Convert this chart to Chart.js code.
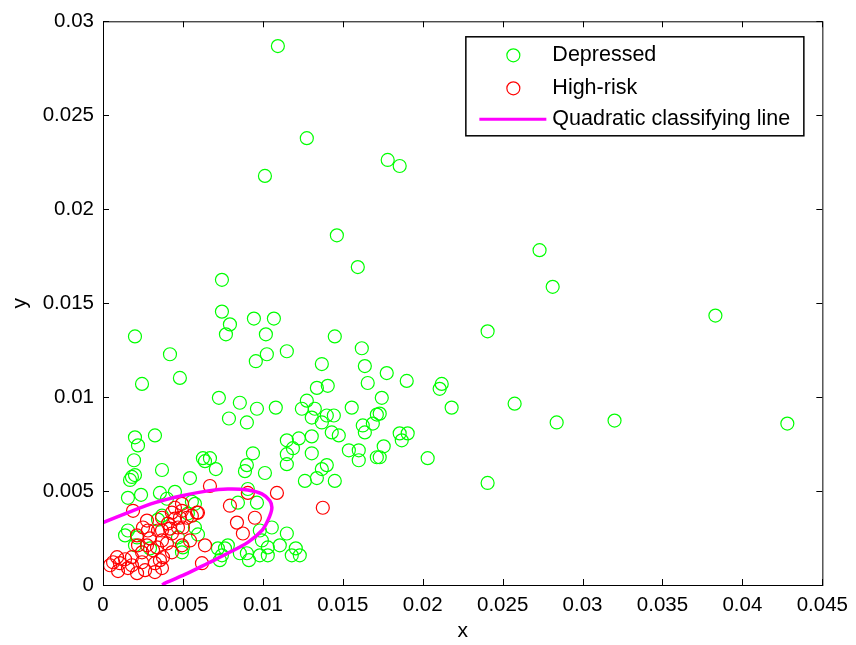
<!DOCTYPE html>
<html>
<head>
<meta charset="utf-8">
<script src="https://cdn.jsdelivr.net/npm/chart.js@4.4.0/dist/chart.umd.min.js"></script>
<style>
  html, body { margin: 0; padding: 0; background: #fff; }
  .wrap { width: 856px; height: 645px; position: relative; }
</style>
</head>
<body>
<div class="wrap"><canvas id="myChart"></canvas></div>
<script>
// Depressed group (green)
const greenX = [0.01094, 0.01275, 0.01013, 0.01781, 0.01856, 0.01463, 0.01594, 0.00744, 0.02731, 0.02813,
  0.03831, 0.02406, 0.04281, 0.032, 0.02838, 0.02575, 0.02181, 0.02119, 0.02106, 0.019,
  0.01775, 0.02031, 0.02406, 0.01744, 0.01731, 0.01856, 0.01906, 0.01869, 0.01756, 0.01731,
  0.002, 0.00419, 0.00481, 0.00244, 0.00744, 0.00794, 0.00769, 0.00944, 0.01069, 0.01019,
  0.0145, 0.01619, 0.0115, 0.01025, 0.00956, 0.01369, 0.01638, 0.01656, 0.01338, 0.01406,
  0.00725, 0.00856, 0.00963, 0.01081, 0.00788, 0.009, 0.01275, 0.01244, 0.01325, 0.01306,
  0.01369, 0.014, 0.01444, 0.01431, 0.01475, 0.01556, 0.01625, 0.01688, 0.01638, 0.01713,
  0.0115, 0.01225, 0.01306, 0.01188, 0.0115, 0.0115, 0.01306, 0.01538, 0.016, 0.016,
  0.01713, 0.00938, 0.009, 0.00888, 0.01013, 0.00625, 0.00669, 0.00638, 0.00706, 0.00544,
  0.01369, 0.014, 0.01338, 0.01263, 0.0145, 0.002, 0.00219, 0.00325, 0.00194, 0.00369,
  0.00181, 0.00169, 0.002, 0.00156, 0.00238, 0.00356, 0.004, 0.0045, 0.00556, 0.00575,
  0.00906, 0.00963, 0.00844, 0.00344, 0.00369, 0.00575, 0.00594, 0.00138, 0.00213, 0.005,
  0.00719, 0.00763, 0.00744, 0.00731, 0.00781, 0.009, 0.00981, 0.01031, 0.01031, 0.01056,
  0.0115, 0.01181, 0.00913, 0.01106, 0.01231, 0.00994, 0.00856, 0.00156, 0.002, 0.00469,
  0.00494, 0.00294, 0.00531, 0.00981, 0.01206];
const greenY = [0.02868, 0.02378, 0.02177, 0.02262, 0.0223, 0.01861, 0.01692, 0.01624, 0.01782, 0.01587,
  0.01434, 0.0135, 0.00859, 0.00875, 0.00865, 0.00965, 0.00944, 0.0107, 0.01044, 0.01086,
  0.01128, 0.00675, 0.00543, 0.00996, 0.00912, 0.00807, 0.00807, 0.0077, 0.00738, 0.0068,
  0.01323, 0.01228, 0.01102, 0.0107, 0.01455, 0.01387, 0.01334, 0.01418, 0.01418, 0.01334,
  0.01323, 0.0126, 0.01244, 0.01228, 0.01191, 0.01176, 0.01165, 0.01075, 0.01049, 0.0106,
  0.00996, 0.0097, 0.00938, 0.00944, 0.00886, 0.00865, 0.00981, 0.00938, 0.00938, 0.00891,
  0.00865, 0.00902, 0.00902, 0.00812, 0.00796, 0.00944, 0.00849, 0.00859, 0.00812, 0.00907,
  0.0077, 0.0078, 0.00791, 0.00728, 0.00696, 0.00643, 0.00701, 0.00717, 0.00717, 0.00664,
  0.0068, 0.00701, 0.00638, 0.00606, 0.00596, 0.00675, 0.00675, 0.00659, 0.00617, 0.00569,
  0.00617, 0.00638, 0.00569, 0.00554, 0.00554, 0.00786, 0.00743, 0.00796, 0.00664, 0.00612,
  0.00575, 0.00559, 0.00585, 0.00464, 0.0048, 0.0049, 0.00459, 0.00496, 0.00443, 0.00432,
  0.00511, 0.00438, 0.00438, 0.00348, 0.00369, 0.00306, 0.00269, 0.00264, 0.00253, 0.002,
  0.00195, 0.00195, 0.00158, 0.00132, 0.00211, 0.00169, 0.00158, 0.00158, 0.002, 0.00306,
  0.00274, 0.00158, 0.00132, 0.00211, 0.00158, 0.00237, 0.00169, 0.0029, 0.00211, 0.00253,
  0.00174, 0.00195, 0.0038, 0.0029, 0.00195];

// High-risk group (red)
const redX = [0.00088, 0.00106, 0.00138, 0.00094, 0.00156, 0.00181, 0.00244, 0.00275, 0.00294, 0.00313,
  0.00325, 0.00356, 0.00369, 0.00325, 0.00263, 0.00213, 0.00244, 0.00213, 0.0025, 0.00281,
  0.00369, 0.004, 0.00431, 0.00369, 0.00406, 0.0045, 0.00469, 0.00431, 0.00494, 0.00525,
  0.00556, 0.00494, 0.00188, 0.00275, 0.00369, 0.00338, 0.00494, 0.00431, 0.00219, 0.00181,
  0.00375, 0.00669, 0.00906, 0.01088, 0.00794, 0.00594, 0.0095, 0.00838, 0.00875, 0.00638,
  0.00619, 0.01375, 0.0045, 0.00481, 0.00588, 0.005, 0.00419, 0.00344, 0.00063, 0.00044,
  0.00544];
const redY = [0.00148, 0.00116, 0.00137, 0.00074, 0.0009, 0.00148, 0.00174, 0.00211, 0.00248, 0.00185,
  0.00116, 0.00132, 0.0009, 0.00069, 0.00079, 0.00063, 0.00121, 0.00264, 0.00306, 0.0029,
  0.00237, 0.00221, 0.00274, 0.0029, 0.00327, 0.00353, 0.00306, 0.00385, 0.00395, 0.00358,
  0.00369, 0.00432, 0.00395, 0.00343, 0.00358, 0.002, 0.00211, 0.00174, 0.00211, 0.00105,
  0.00148, 0.00527, 0.0049, 0.0049, 0.00422, 0.00385, 0.00358, 0.00332, 0.00274, 0.00211,
  0.00116, 0.00411, 0.00411, 0.00358, 0.00385, 0.00306, 0.003, 0.0029, 0.00121, 0.00105,
  0.00237];

// quadratic classifying line
const curveX = [0, 0.00156, 0.00325, 0.00494, 0.00656, 0.00781, 0.00906, 0.00994, 0.01044, 0.01056,
  0.01031, 0.00994, 0.00906, 0.00781, 0.00656, 0.00531, 0.00388, 0.0037];
const curveY = [0.00332, 0.00385, 0.00438, 0.00475, 0.00501, 0.00511, 0.00506, 0.00485, 0.00448, 0.00406,
  0.00343, 0.0029, 0.00227, 0.00169, 0.00116, 0.00063, 0.0001, 0];

const xTicks = [0, 0.005, 0.01, 0.015, 0.02, 0.025, 0.03, 0.035, 0.04, 0.045];
const yTicks = [0, 0.005, 0.01, 0.015, 0.02, 0.025, 0.03];
const legendLabels = ["Depressed", "High-risk", "Quadratic classifying line"];

const FONT = "'Liberation Sans', Arial, sans-serif";
const toPts = (xs, ys) => xs.map((x, i) => ({ x: x, y: ys[i] }));

// axes box + inward ticks, matlab style
const boxPlugin = {
  id: "box",
  afterDraw(chart) {
    const c = chart.ctx, a = chart.chartArea;
    const sx = chart.scales.x, sy = chart.scales.y;
    c.save();
    c.strokeStyle = "#000";
    c.lineWidth = 1;
    c.strokeRect(a.left + 0.5, a.top + 0.5, a.right - a.left, a.bottom - a.top);
    c.beginPath();
    xTicks.forEach((v) => {
      const px = Math.round(sx.getPixelForValue(v)) + 0.5;
      c.moveTo(px, a.bottom); c.lineTo(px, a.bottom - 6);
      c.moveTo(px, a.top); c.lineTo(px, a.top + 6);
    });
    yTicks.forEach((v) => {
      const py = Math.round(sy.getPixelForValue(v)) + 0.5;
      c.moveTo(a.left, py); c.lineTo(a.left + 6, py);
      c.moveTo(a.right, py); c.lineTo(a.right - 6, py);
    });
    c.stroke();

    // legend
    const lx = a.right - 357, ly = a.top + 15, lw = 338, lh = 99;
    c.fillStyle = "#fff";
    c.fillRect(lx, ly, lw, lh);
    c.lineWidth = 1.5;
    c.strokeRect(lx + 0.5, ly + 0.5, lw, lh);
    const rows = [ly + 19, ly + 52, ly + 83];
    c.lineWidth = 1.2;
    c.strokeStyle = "#00ff00";
    c.beginPath(); c.arc(lx + 48, rows[0], 6.5, 0, Math.PI * 2); c.stroke();
    c.strokeStyle = "#ff0000";
    c.beginPath(); c.arc(lx + 48, rows[1], 6.5, 0, Math.PI * 2); c.stroke();
    c.strokeStyle = "#ff00ff";
    c.lineWidth = 3;
    c.beginPath(); c.moveTo(lx + 14, rows[2]); c.lineTo(lx + 81, rows[2]); c.stroke();
    c.fillStyle = "#000";
    c.font = "21.5px " + FONT;
    c.textBaseline = "middle";
    legendLabels.forEach((t, i) => c.fillText(t, lx + 87, rows[i]));
    c.restore();
  },
};

const data = {
  datasets: [
    {
      type: "line",
      label: legendLabels[2],
      data: toPts(curveX, curveY),
      borderColor: "#ff00ff",
      borderWidth: 3.5,
      pointRadius: 0,
      tension: 0.35,
      fill: false,
      order: 0,
    },
    {
      label: legendLabels[1],
      data: toPts(redX, redY),
      borderColor: "#ff0000",
      backgroundColor: "rgba(0,0,0,0)",
      borderWidth: 1.2,
      pointRadius: 6.5,
      order: 1,
    },
    {
      label: legendLabels[0],
      data: toPts(greenX, greenY),
      borderColor: "#00ff00",
      backgroundColor: "rgba(0,0,0,0)",
      borderWidth: 1.2,
      pointRadius: 6.5,
      order: 2,
    },
  ],
};

const config = {
  type: "scatter",
  data,
  options: {
    responsive: true,
    maintainAspectRatio: false,
    animation: false,
    layout: { padding: { top: 16, right: 33, left: 0, bottom: 0 } },
    plugins: { legend: { display: false }, tooltip: { enabled: false } },
    scales: {
      x: {
        type: "linear",
        min: 0,
        max: 0.045,
        afterBuildTicks: (s) => { s.ticks = xTicks.map((v) => ({ value: v })); },
        afterFit: (s) => { s.height = 60; },
        grid: { display: false, drawTicks: false },
        border: { display: false },
        ticks: {
          color: "#000",
          padding: 8,
          font: { family: FONT, size: 20.5 },
          callback: (v) => String(+v.toFixed(4)),
        },
        title: { display: true, text: "x", color: "#000", font: { family: FONT, size: 21 }, padding: { top: 0, bottom: 1 } },
      },
      y: {
        type: "linear",
        min: 0,
        max: 0.03,
        afterBuildTicks: (s) => { s.ticks = yTicks.map((v) => ({ value: v })); },
        afterFit: (s) => { s.width = 103; },
        grid: { display: false, drawTicks: false },
        border: { display: false },
        ticks: {
          color: "#000",
          padding: 9,
          font: { family: FONT, size: 20.5 },
          callback: (v) => String(+v.toFixed(4)),
        },
        title: { display: true, text: "y", color: "#000", font: { family: FONT, size: 21 }, padding: { top: 8, bottom: 0 } },
      },
    },
  },
  plugins: [boxPlugin],
};

let myChart = new Chart(document.getElementById("myChart"), config);
</script>
</body>
</html>
